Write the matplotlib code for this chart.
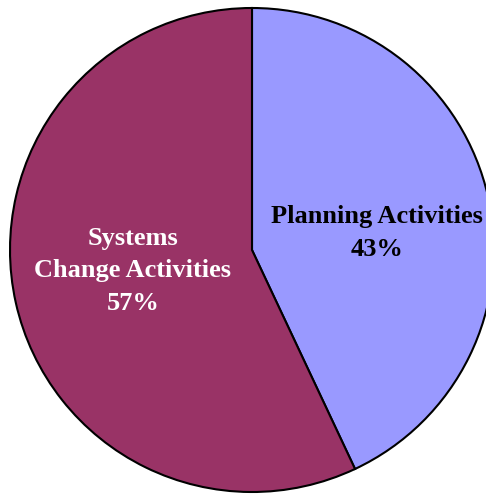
import matplotlib
matplotlib.use("Agg")
import matplotlib.pyplot as plt

labels = ["Planning Activities", "Systems\nChange Activities"]
values = [43, 57]
colors = ["#9999FF", "#993366"]
text_colors = ["black", "white"]

fig = plt.figure(figsize=(4.86, 4.94), dpi=100)
ax = fig.add_axes([10/486, 2/494, 484/486, 484/494])
wedges, _ = ax.pie(values, colors=colors, startangle=90, counterclock=False,
                   radius=1.0, wedgeprops=dict(edgecolor="black", linewidth=1.5))
ax.set_xlim(-1, 1)
ax.set_ylim(-1, 1)
ax.set_aspect("auto")
ax.axis("off")

pos = [((377-252)/242, (250-233)/242), ((133-252)/242, (250-271)/242)]
for lab, v, (x, y), c in zip(labels, values, pos, text_colors):
    ax.text(x, y, f"{lab}\n{v}%", ha="center", va="center", color=c,
            fontsize=19, fontweight="bold", family="Liberation Serif", linespacing=1.5)

fig.savefig("out.png", dpi=100)
